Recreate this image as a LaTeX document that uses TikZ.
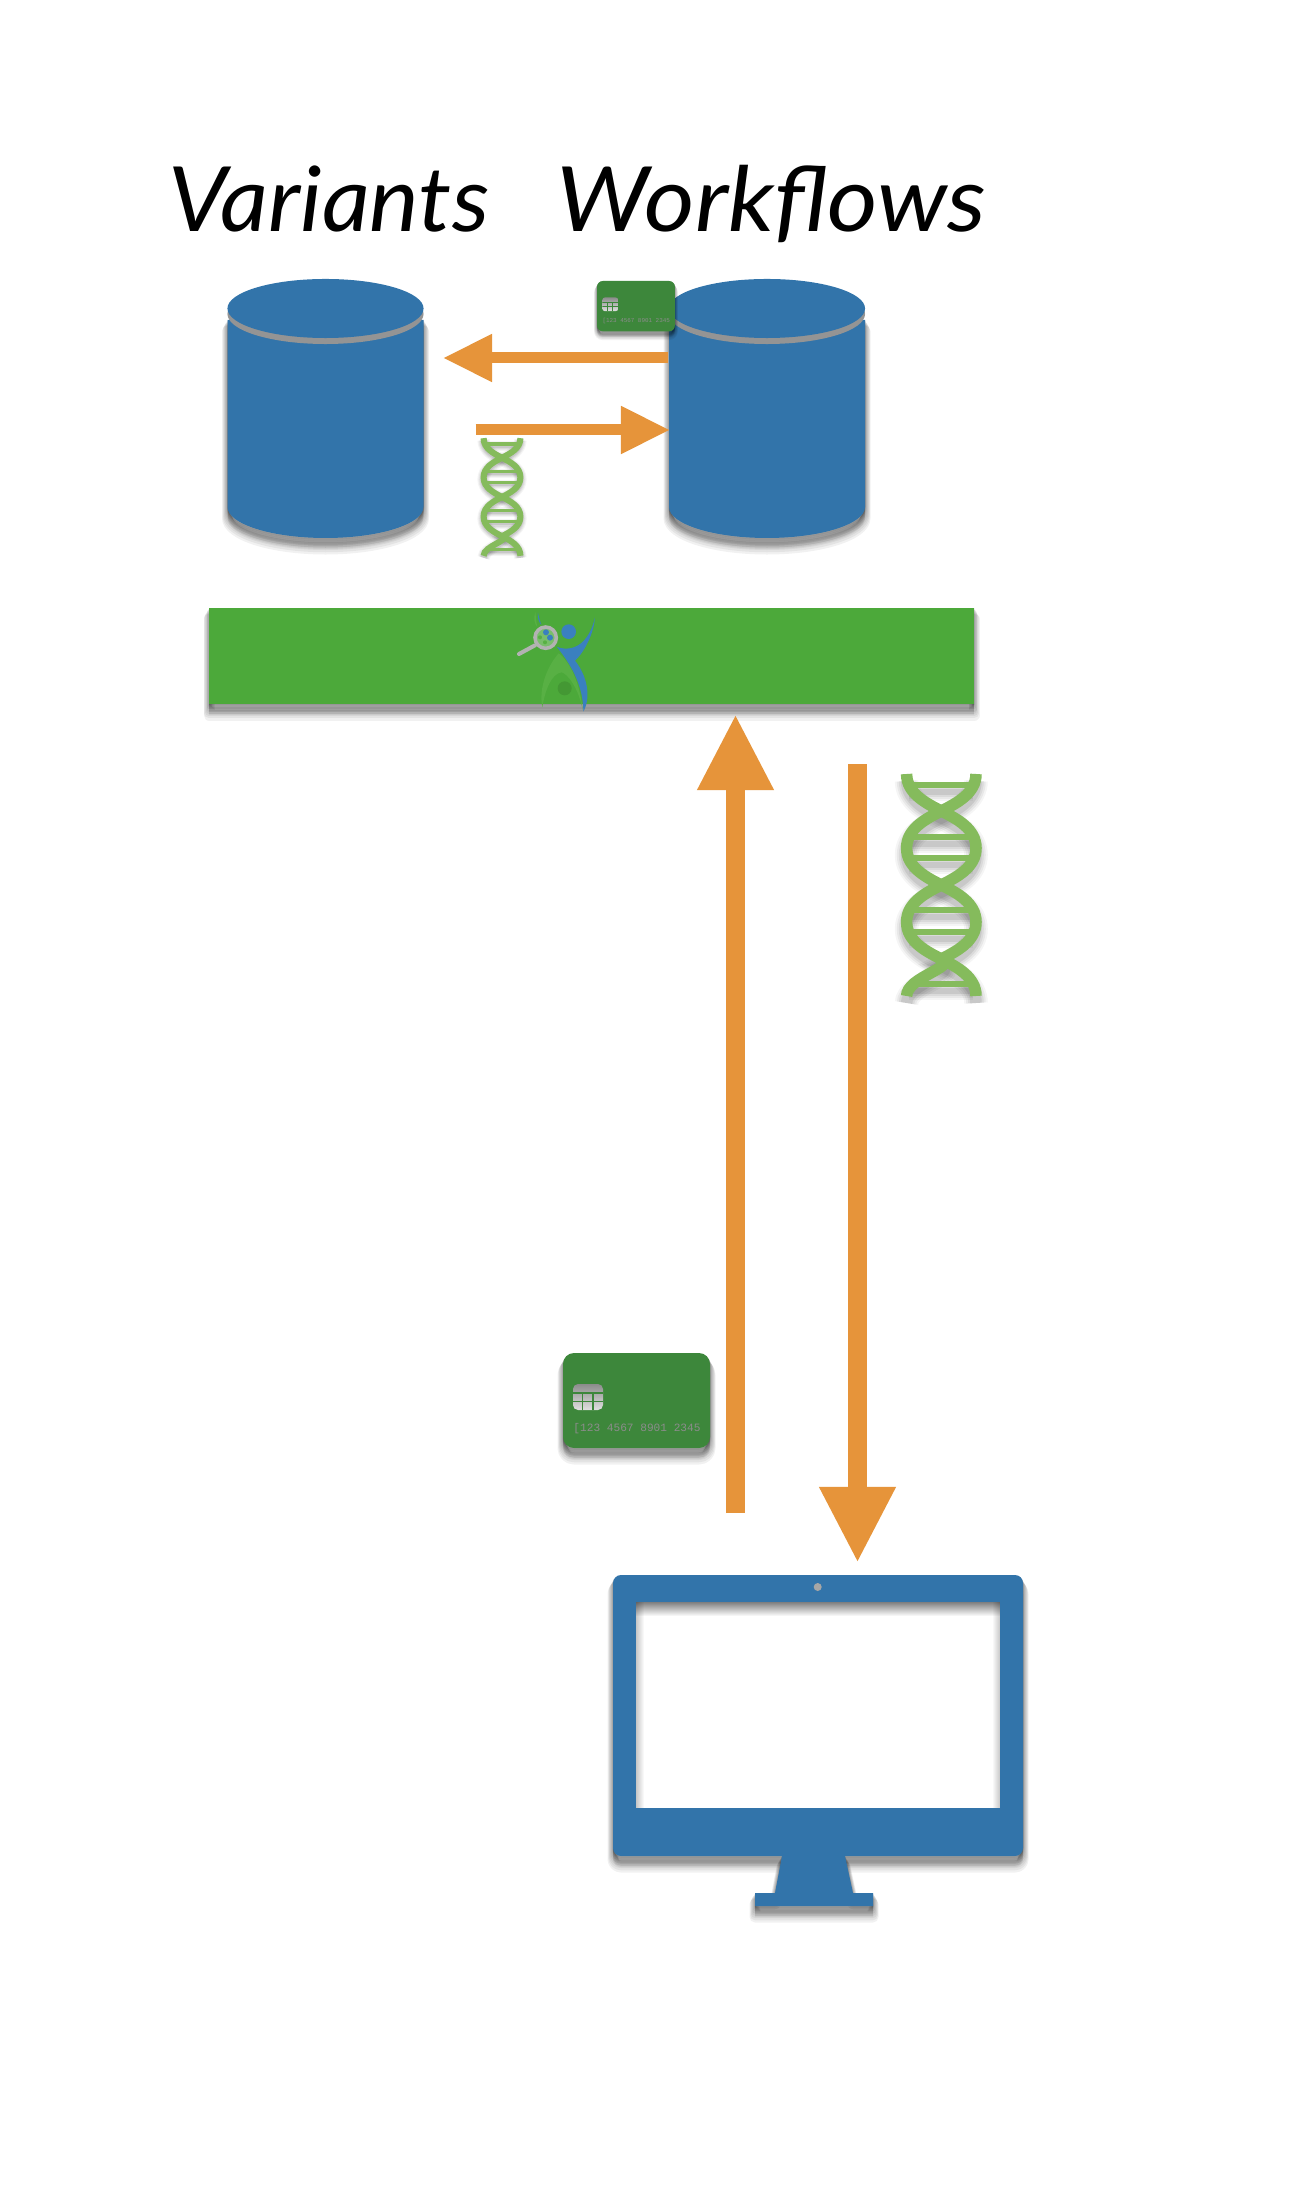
\documentclass[tikz,border=0pt]{standalone}
\usepackage{fontspec}
\usetikzlibrary{arrows.meta,fadings}
\setmainfont{Lato}
\newfontfamily\cardfont{Liberation Mono}

\definecolor{dbblue}{HTML}{3274AA}
\definecolor{arroworange}{HTML}{E6943A}
\definecolor{helixgreen}{HTML}{85BB5C}
\definecolor{bargreen}{HTML}{4CA93A}
\definecolor{cardgreen}{HTML}{3D873B}
\definecolor{logoblue}{HTML}{3A80BF}
\definecolor{logogreen}{HTML}{58B044}

\tikzset{
	shadowlayer/.style={preaction={draw=black,fill=black,opacity=0.055,line join=round,line width=#1,transform canvas={yshift=-#1}}},
	softshadow/.style={shadowlayer={#1*0.11cm},shadowlayer={#1*0.095cm},shadowlayer={#1*0.08cm},shadowlayer={#1*0.065cm},shadowlayer={#1*0.05cm},shadowlayer={#1*0.035cm},shadowlayer={#1*0.02cm},shadowlayer={#1*0.01cm}},
	softshadow/.default=1,
	bigarrow/.style={draw=arroworange,line width=0.19cm,-{Triangle[length=0.76cm,width=0.71cm]}},
	smallarrow/.style={draw=arroworange,line width=0.11cm,-{Triangle[length=0.49cm,width=0.45cm]}},
	title/.style={anchor=base west,inner sep=0pt,font=\fontsize{25.6}{30}\selectfont\itshape}
}

\newcommand{\dbcylinder}[2]{
	\begin{scope}[shift={(#1,0)}]
		\path[fill=dbblue,softshadow] (0,320) -- (0,507) .. controls (0,524) and (44,538) .. (98,538) .. controls (152,538) and (196,524) .. (196,507) -- (196,320) -- cycle;
		\fill[black!42] (98,314) ellipse [x radius=0.98cm,y radius=0.30cm];
		\fill[dbblue] (98,308.5) ellipse [x radius=0.98cm,y radius=0.295cm];
		\coordinate (#2) at (98,309);
	\end{scope}
}

% one helix, #3 is the size against the big one
\newcommand{\helixlines}[3]{
	\draw[#3] (-34.7,-111) .. controls (-34.7,-92) and (-16,-82) .. (0,-74) .. controls (16,-66) and (34.7,-56) .. (34.7,-37) .. controls (34.7,-18) and (16,-8) .. (0,0) .. controls (-16,8) and (-34.7,18) .. (-34.7,37) .. controls (-34.7,56) and (-16,66) .. (0,74) .. controls (16,82) and (34.7,92) .. (34.7,111);
	\draw[#3] (34.7,-111) .. controls (34.7,-92) and (16,-82) .. (0,-74) .. controls (-16,-66) and (-34.7,-56) .. (-34.7,-37) .. controls (-34.7,-18) and (-16,-8) .. (0,0) .. controls (16,8) and (34.7,18) .. (34.7,37) .. controls (34.7,56) and (16,66) .. (0,74) .. controls (16,82) and (-34.7,92) .. (-34.7,111);
	\foreach \rungy in {-100,-48,-27,25,47,99}
		\draw[#3,line width=#1*0.06cm+#2] (-32,\rungy) -- (32,\rungy);
}
\newcommand{\dnahelix}[3]{
	\begin{scope}[shift={(#1,#2)},scale=#3]
		\foreach \spread/\sop in {0.12/0.04,0.08/0.05,0.04/0.06,0/0.08}{
			\begin{scope}[yshift=-0.07cm*#3]
				\helixlines{#3}{\spread*#3 cm}{draw=black,opacity=\sop,line width=#3*0.115cm+\spread*#3 cm}
			\end{scope}
		}
		\helixlines{#3}{0cm}{draw=helixgreen,line width=#3*0.115cm}
	\end{scope}
}

\newcommand{\creditcard}[4]{
	\begin{scope}[shift={(#1,#2)},scale=#3]
		\path[fill=cardgreen,rounded corners=#3*0.11cm,softshadow=#3] (0,0) rectangle (147,95);
		\begin{scope}
			\clip[rounded corners=#3*0.05cm] (10,31) rectangle (40,57);
			\shade[top color=black!45,bottom color=black!12] (10,31) rectangle (40,57);
			\foreach \chipx in {19.5,30}
				\draw[cardgreen,line width=#3*0.018cm] (\chipx,40) -- (\chipx,57);
			\foreach \chipy in {40,48.5}
				\draw[cardgreen,line width=#3*0.018cm] (10,\chipy) -- (40,\chipy);
		\end{scope}
		\node[inner sep=0pt,text=black!45,scale=#3,font=\cardfont\fontsize{3.17}{4}\selectfont] (#4) at (74,76) {[123 4567 8901 2345};
	\end{scope}
}

\begin{document}
\begin{tikzpicture}[x=0.01cm,y=-0.01cm]
	\useasboundingbox (0,0) rectangle (1314,2204);
	\fill[white] (0,0) rectangle (1314,2204);

	\node[title,xscale=1.04] (varianttitle) at (167.4,232) {Variants};
	\node[title,xscale=1.08] (workflowtitle) at (556,232) {Workflows};

	\dbcylinder{227.5}{variantdb}
	\dbcylinder{669}{workflowdb}
	\creditcard{597}{281}{0.53}{smallcard}

	\coordinate (wfout) at (668,358);
	\coordinate (varin) at (443,358);
	\coordinate (varout) at (475.5,430);
	\coordinate (wfin) at (670,430);
	\draw[smallarrow] (wfout) -- (varin);
	\draw[smallarrow] (varout) -- (wfin);
	\dnahelix{502}{497}{0.53}

	\path[fill=bargreen,softshadow] (209,608) rectangle (974,704);
	\node[inner sep=0pt] (gateway) at (596,656) {};

	% logo on the bar
	\begin{scope}[shift={(480,590)},scale=0.3333]
		\fill[logogreen] (166,66) .. controls (160,85) and (163,100) .. (172,112) .. controls (168,95) and (168,80) .. (166,66) -- cycle;
		\fill[logoblue] (174,68) .. controls (172,85) and (176,95) .. (184,105) .. controls (180,92) and (176,80) .. (174,68) -- cycle;
		\fill[logoblue] (345,82) .. controls (342,130) and (312,188) .. (285,212) .. controls (320,255) and (335,320) .. (310,365) .. controls (310,300) and (285,238) .. (230,170) .. controls (250,180) and (320,190) .. (345,82) -- cycle;
		\fill[logoblue] (266,125) circle (0.22cm);
		\fill[logogreen] (236,190) .. controls (270,215) and (300,280) .. (308,360) .. controls (295,290) and (260,250) .. (245,247) .. controls (215,250) and (195,300) .. (187,352) .. controls (175,290) and (205,225) .. (236,190) -- cycle;
		\fill[bargreen!90!black] (254,295) circle (0.21cm);
		\draw[black!30,line width=0.04cm,line cap=round] (165,166) -- (117,192);
		\fill[bargreen!75!white] (197,143) circle (0.32cm);
		\draw[black!30,line width=0.035cm] (197,143) circle (0.32cm);
		\fill[logoblue] (198,127) circle (0.09cm);
		\fill[logoblue] (210,143) circle (0.09cm);
		\fill[logogreen] (180,142) circle (0.06cm);
		\fill[logogreen] (195,157) circle (0.06cm);
	\end{scope}

	\coordinate (clientout) at (735.5,1513);
	\coordinate (gatewayin) at (735.5,714);
	\coordinate (gatewayout) at (857.5,764);
	\coordinate (clientin) at (857.5,1563);
	\draw[bigarrow] (clientout) -- (gatewayin);
	\draw[bigarrow] (gatewayout) -- (clientin);
	\dnahelix{941.3}{885}{1}

	\creditcard{563}{1353}{1}{bigcard}

	% monitor
	\path[fill=dbblue,rounded corners=0.08cm,softshadow] (613,1575) rectangle (1023,1856);
	\fill[white] (636,1602) rectangle (1000,1808);
	\fill[black,opacity=0.22,path fading=east] (636,1602) rectangle (644,1808);
	\fill[black,opacity=0.22,path fading=west] (992,1602) rectangle (1000,1808);
	\fill[black,opacity=0.5,path fading=south] (636,1602) rectangle (1000,1616);
	\path[fill=dbblue,softshadow] (755,1893) -- (775,1893) -- (782,1856) -- (845,1856) -- (853,1893) -- (873,1893) -- (873,1906) -- (755,1906) -- cycle;
	\fill[dbblue] (782,1850) rectangle (845,1860);
	\fill[black!35] (817.7,1587) circle (0.04cm);
\end{tikzpicture}
\end{document}
